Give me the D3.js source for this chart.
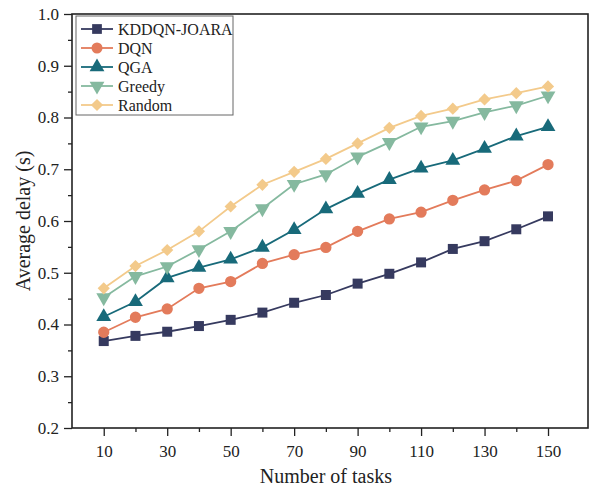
<!DOCTYPE html>
<html>
<head>
<meta charset="utf-8">
<script src="https://cdn.jsdelivr.net/npm/d3@7"></script>
<style>
  body { margin: 0; background: #fff; }
  text { font-family: "Liberation Serif", "Times New Roman", serif; fill: #222; }
</style>
</head>
<body>
<svg id="chart" width="593" height="488"></svg>
<script>
// data
var tasks = [10, 20, 30, 40, 50, 60, 70, 80, 90, 100, 110, 120, 130, 140, 150];
var kddqn = [0.368, 0.378, 0.386, 0.397, 0.409, 0.423, 0.442, 0.457, 0.479, 0.498, 0.520, 0.546, 0.561, 0.584, 0.609];
var dqn = [0.385, 0.414, 0.430, 0.470, 0.483, 0.518, 0.535, 0.549, 0.580, 0.604, 0.617, 0.640, 0.660, 0.678, 0.709];
var qga = [0.415, 0.444, 0.490, 0.510, 0.526, 0.549, 0.583, 0.623, 0.653, 0.680, 0.702, 0.717, 0.740, 0.764, 0.782];
var greedy = [0.452, 0.493, 0.512, 0.545, 0.580, 0.624, 0.671, 0.690, 0.724, 0.752, 0.782, 0.793, 0.810, 0.823, 0.842];
var random = [0.470, 0.513, 0.544, 0.580, 0.628, 0.670, 0.695, 0.720, 0.750, 0.780, 0.803, 0.817, 0.835, 0.847, 0.860];
var seriesNames = ["KDDQN-JOARA", "DQN", "QGA", "Greedy", "Random"];
var xTicks = [10, 30, 50, 70, 90, 110, 130, 150];
var yTicks = [0.2, 0.3, 0.4, 0.5, 0.6, 0.7, 0.8, 0.9, 1.0];

var series = [
    {name: seriesNames[0], values: kddqn, color: "#363a5f", sym: d3.symbolSquare, rot: 0},
    {name: seriesNames[1], values: dqn, color: "#e37b5b", sym: d3.symbolCircle, rot: 0},
    {name: seriesNames[2], values: qga, color: "#186a7a", sym: d3.symbolTriangle, rot: 0},
    {name: seriesNames[3], values: greedy, color: "#85b99f", sym: d3.symbolTriangle, rot: 180},
    {name: seriesNames[4], values: random, color: "#f3ca8b", sym: d3.symbolDiamond2, rot: 0}
];

var margin = {top: 14, right: 5, bottom: 60, left: 72};
var width = 593 - margin.left - margin.right;
var height = 488 - margin.top - margin.bottom;

var svg = d3.select("#chart");
var g = svg.append("g").attr("transform", "translate(" + margin.left + "," + margin.top + ")");

var x = d3.scaleLinear().domain([0, 162.6]).range([0, width]);
var y = d3.scaleLinear().domain([0.2, 1.0]).range([height, 0]);

// minor ticks
g.append("g")
    .attr("transform", "translate(0," + height + ")")
    .call(d3.axisBottom(x).tickValues([20, 40, 60, 80, 100, 120, 140]).tickSize(4).tickFormat(""))
    .call(function (s) { s.select(".domain").remove(); s.selectAll("line").attr("stroke", "#222").attr("stroke-width", 1.3); });
g.append("g")
    .call(d3.axisLeft(y).tickValues(d3.range(0.25, 1.0, 0.1)).tickSize(4).tickFormat(""))
    .call(function (s) { s.select(".domain").remove(); s.selectAll("line").attr("stroke", "#222").attr("stroke-width", 1.3); });

// major ticks
var xAxis = g.append("g")
    .attr("transform", "translate(0," + height + ")")
    .call(d3.axisBottom(x).tickValues(xTicks).tickSize(8).tickPadding(9));
var yAxis = g.append("g")
    .call(d3.axisLeft(y).tickValues(yTicks).tickSize(8).tickPadding(5).tickFormat(d3.format(".1f")));
[xAxis, yAxis].forEach(function (a) {
    a.select(".domain").remove();
    a.selectAll("line").attr("stroke", "#222").attr("stroke-width", 1.3);
    a.selectAll("text").style("font-size", "17px").style("font-family", "Liberation Serif").attr("fill", "#222");
});

// frame
g.append("rect")
    .attr("width", width).attr("height", height)
    .attr("fill", "none").attr("stroke", "#222").attr("stroke-width", 1.6);

var line = d3.line()
    .x(function (d, i) { return x(tasks[i]); })
    .y(function (d) { return y(d); });

series.forEach(function (s) {
    g.append("path")
        .datum(s.values)
        .attr("fill", "none")
        .attr("stroke", s.color)
        .attr("stroke-width", 1.8)
        .attr("d", line);
    g.selectAll(null)
        .data(s.values)
        .enter()
        .append("path")
        .attr("d", d3.symbol().type(s.sym).size(s.sym === d3.symbolCircle ? 100 : (s.sym === d3.symbolSquare ? 100 : 95)))
        .attr("transform", function (d, i) {
            return "translate(" + x(tasks[i]) + "," + y(d) + ") rotate(" + s.rot + ")";
        })
        .attr("fill", s.color);
});

// legend
var legend = g.append("g").attr("transform", "translate(4,2)");
legend.append("rect")
    .attr("width", 157).attr("height", 99)
    .attr("fill", "#fff").attr("stroke", "#666").attr("stroke-width", 1);
series.forEach(function (s, i) {
    var ly = 13 + i * 19;
    legend.append("line")
        .attr("x1", 5).attr("x2", 37).attr("y1", ly).attr("y2", ly)
        .attr("stroke", s.color).attr("stroke-width", 1.8);
    legend.append("path")
        .attr("d", d3.symbol().type(s.sym).size(95))
        .attr("transform", "translate(21," + ly + ") rotate(" + s.rot + ")")
        .attr("fill", s.color);
    legend.append("text")
        .attr("x", 42).attr("y", ly + 5.5)
        .style("font-size", "16px")
        .text(s.name);
});

// axis titles
svg.append("text")
    .attr("x", margin.left + x(80))
    .attr("y", 483)
    .attr("text-anchor", "middle")
    .style("font-size", "20px")
    .text("Number of tasks");
svg.append("text")
    .attr("transform", "translate(30," + (margin.top + height / 2) + ") rotate(-90)")
    .attr("text-anchor", "middle")
    .style("font-size", "20px")
    .text("Average delay (s)");
</script>
</body>
</html>
